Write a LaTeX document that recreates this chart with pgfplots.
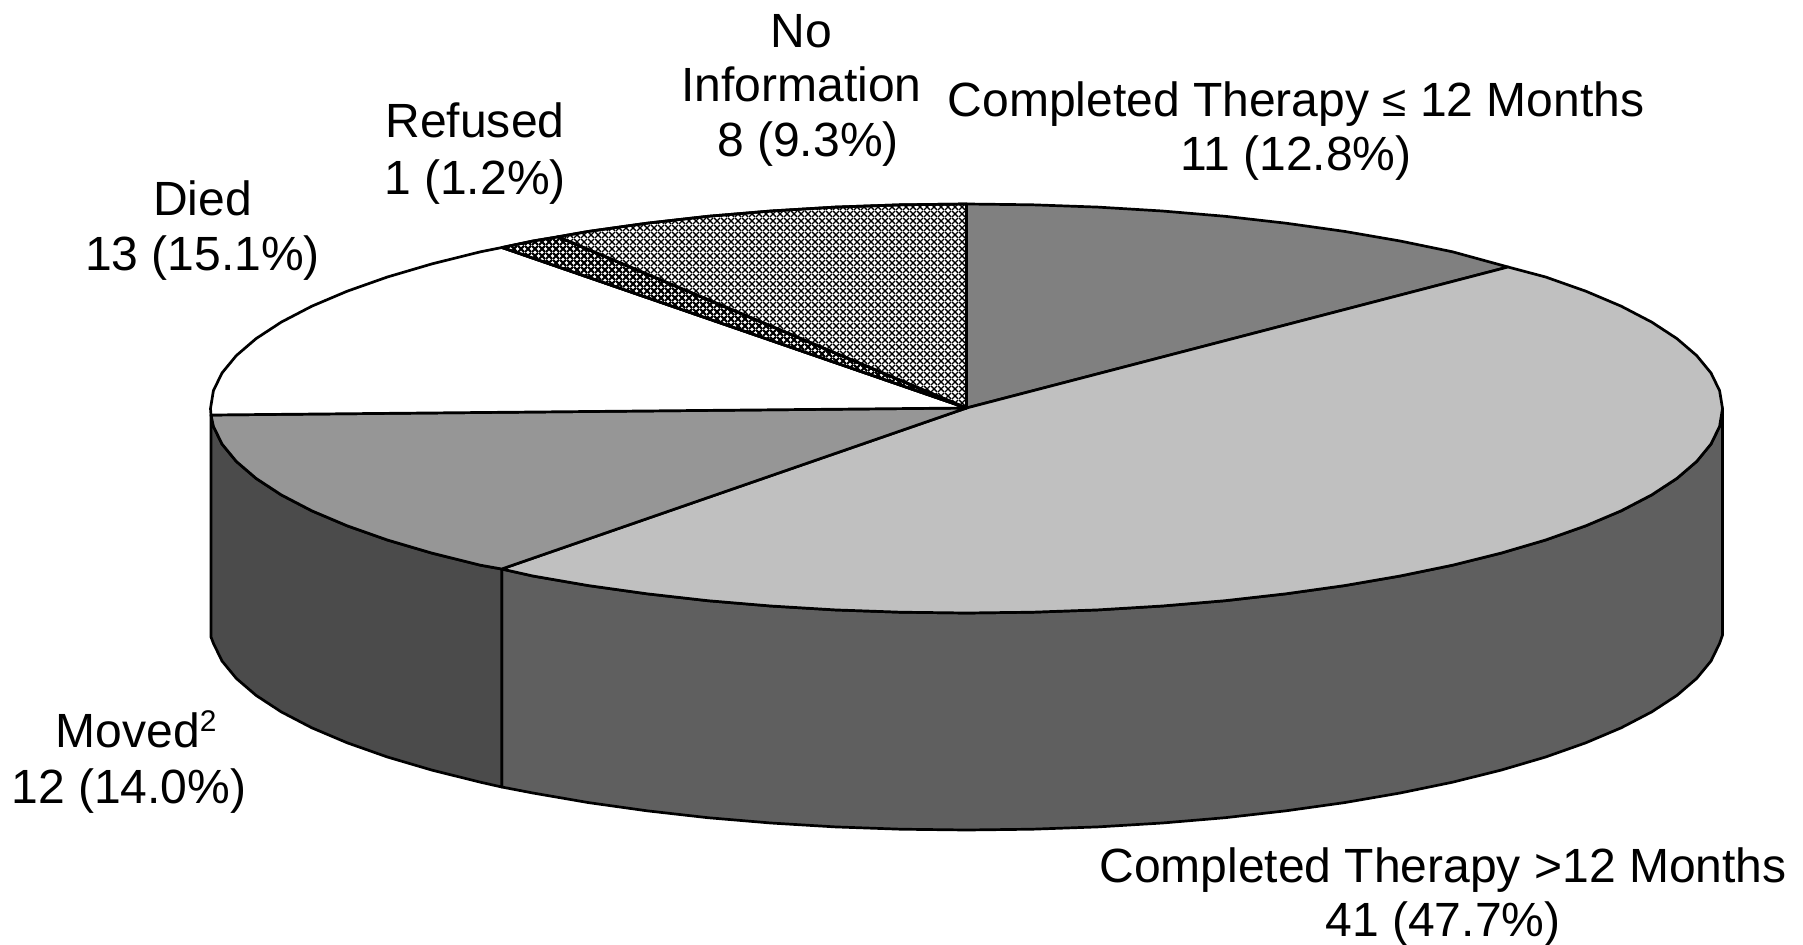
\documentclass[border=0pt]{standalone}
\usepackage{fontspec}
\setmainfont{Liberation Sans}
\usepackage{pgfplots}
\usepackage{pgfplotstable}
\pgfplotsset{compat=1.18}
\usetikzlibrary{patterns}

% fine 45 degree lattice, as in the two hatched slices
\pgfdeclarepatternformonly{finelight}{\pgfqpoint{0bp}{0bp}}{\pgfqpoint{3.5bp}{3.5bp}}{\pgfqpoint{3.5bp}{3.5bp}}{
  \pgfsetlinewidth{0.75bp}
  \pgfpathmoveto{\pgfqpoint{0bp}{0bp}}\pgfpathlineto{\pgfqpoint{3.5bp}{3.5bp}}
  \pgfpathmoveto{\pgfqpoint{0bp}{3.5bp}}\pgfpathlineto{\pgfqpoint{3.5bp}{0bp}}
  \pgfusepath{stroke}}
\pgfdeclarepatternformonly{finedark}{\pgfqpoint{0bp}{0bp}}{\pgfqpoint{3.5bp}{3.5bp}}{\pgfqpoint{3.5bp}{3.5bp}}{
  \pgfsetlinewidth{1.2bp}
  \pgfpathmoveto{\pgfqpoint{0bp}{0bp}}\pgfpathlineto{\pgfqpoint{3.5bp}{3.5bp}}
  \pgfpathmoveto{\pgfqpoint{0bp}{3.5bp}}\pgfpathlineto{\pgfqpoint{3.5bp}{0bp}}
  \pgfusepath{stroke}}

\definecolor{sliceA}{HTML}{808080}
\definecolor{sliceB}{HTML}{C0C0C0}
\definecolor{sliceC}{HTML}{969696}
\definecolor{sideB}{HTML}{5F5F5F}
\definecolor{sideC}{HTML}{4B4B4B}

% all coordinates are picture pixels, y counted from the top
\pgfplotstableread{
966.5 408
966.5 204
1032.4 204.8
1097.8 207.1
1162.2 211
1225.1 216.3
1286 223.2
1344.5 231.4
1400.1 241
1452.5 251.8
1508 267
}\sliceone
\pgfplotstableread{
966.5 408
1508 267
1545.6 277
1585.8 291.2
1621.2 306.2
1651.7 322.1
1676.9 338.6
1696.7 355.6
1711 373
1719.6 390.7
1722.5 408.5
1719.6 426.3
1711 444
1696.7 461.4
1676.9 478.4
1651.7 494.9
1621.2 510.8
1585.8 525.8
1545.6 540
1501.1 553.1
1452.5 565.2
1400.1 576
1344.5 585.6
1286 593.8
1225.1 600.7
1162.2 606
1097.8 609.9
1032.4 612.2
966.5 613
900.6 612.2
835.2 609.9
770.8 606
707.9 600.7
647 593.8
588.5 585.6
532.9 576
501.7 569
}\slicetwo
\pgfplotstableread{
966.5 408
501.7 569
480.5 565.2
431.9 553.1
387.4 540
347.2 525.8
311.8 510.8
281.3 494.9
256.1 478.4
236.3 461.4
222 444
213.4 426.3
211 415
}\slicethree
\pgfplotstableread{
966.5 408
211 415
210.5 408.5
213.4 390.7
222 373
236.3 355.6
256.1 338.6
281.3 322.1
311.8 306.2
347.2 291.2
387.4 277
431.9 263.9
480.5 251.8
502 247.5
}\slicefour
\pgfplotstableread{
966.5 408
502 247.5
532.9 241
558 236.8
}\slicefive
\pgfplotstableread{
966.5 408
558 236.8
588.5 231.4
647 223.2
707.9 216.3
770.8 211
835.2 207.1
900.6 204.8
966.5 204
}\slicesix
\pgfplotstableread{
1722.5 408.5
1719.6 426.3
1711 444
1696.7 461.4
1676.9 478.4
1651.7 494.9
1621.2 510.8
1585.8 525.8
1545.6 540
1501.1 553.1
1452.5 565.2
1400.1 576
1344.5 585.6
1286 593.8
1225.1 600.7
1162.2 606
1097.8 609.9
1032.4 612.2
966.5 613
900.6 612.2
835.2 609.9
770.8 606
707.9 600.7
647 593.8
588.5 585.6
532.9 576
501.7 569
501.7 787
532.9 793
588.5 802.6
647 810.8
707.9 817.7
770.8 823
835.2 826.9
900.6 829.2
966.5 830
1032.4 829.2
1097.8 826.9
1162.2 823
1225.1 817.7
1286 810.8
1344.5 802.6
1400.1 793
1452.5 782.2
1501.1 770.1
1545.6 757
1585.8 742.8
1621.2 727.8
1651.7 711.9
1676.9 695.4
1696.7 678.4
1711 661
1719.6 643.3
1722.5 635
}\sidetwo
\pgfplotstableread{
501.7 569
480.5 565.2
431.9 553.1
387.4 540
347.2 525.8
311.8 510.8
281.3 494.9
256.1 478.4
236.3 461.4
222 444
213.4 426.3
211 415
211 637
213.4 643.3
222 661
236.3 678.4
256.1 695.4
281.3 711.9
311.8 727.8
347.2 742.8
387.4 757
431.9 770.1
480.5 782.2
501.7 787
}\sidethree

\begin{document}
\begin{tikzpicture}
\begin{axis}[
    scale only axis,
    width=901.5bp,
    height=472.5bp,
    xmin=0, xmax=1803,
    ymin=0, ymax=945,
    y dir=reverse,
    hide axis,
    clip=false,
    every axis plot/.append style={draw=black, line width=1.35bp, line join=round, mark=none},
    nodes={font=\fontsize{24.1}{29}\selectfont, inner sep=0pt, anchor=base},
]
\addplot[fill=sideB] table {\sidetwo} --cycle;
\addplot[fill=sideC] table {\sidethree} --cycle;
\addplot[fill=sliceA] table {\sliceone} --cycle;
\addplot[fill=sliceB] table {\slicetwo} --cycle;
\addplot[fill=sliceC] table {\slicethree} --cycle;
\addplot[fill=white] table {\slicefour} --cycle;
\addplot[fill=white] table {\slicefive} --cycle;
\addplot[pattern=finedark, pattern color=black] table {\slicefive} --cycle;
\addplot[fill=white] table {\slicesix} --cycle;
\addplot[pattern=finelight, pattern color=black] table {\slicesix} --cycle;

\node at (axis cs:801.5,48) {No};
\node at (axis cs:801.5,102) {Information};
\node at (axis cs:808,157) {8 (9.3\%)};
\node at (axis cs:1296,117) {Completed Therapy {\fontsize{22}{22}\selectfont ≤} 12 Months};
\node at (axis cs:1296,171) {11 (12.8\%)};
\node at (axis cs:475,138) {Refused};
\node at (axis cs:475,194) {1 (1.2\%)};
\node at (axis cs:202.5,215) {Died};
\node at (axis cs:202.5,270) {13 (15.1\%)};
\node at (axis cs:136,747) {Moved\raisebox{8bp}{\fontsize{15}{15}\selectfont 2}};
\node at (axis cs:129,803) {12 (14.0\%)};
\node at (axis cs:1443,882) {Completed Therapy >12 Months};
\node at (axis cs:1443,936) {41 (47.7\%)};
\end{axis}
\pgfresetboundingbox
\useasboundingbox (current axis.south west) rectangle (current axis.north east);
\end{tikzpicture}
\end{document}
